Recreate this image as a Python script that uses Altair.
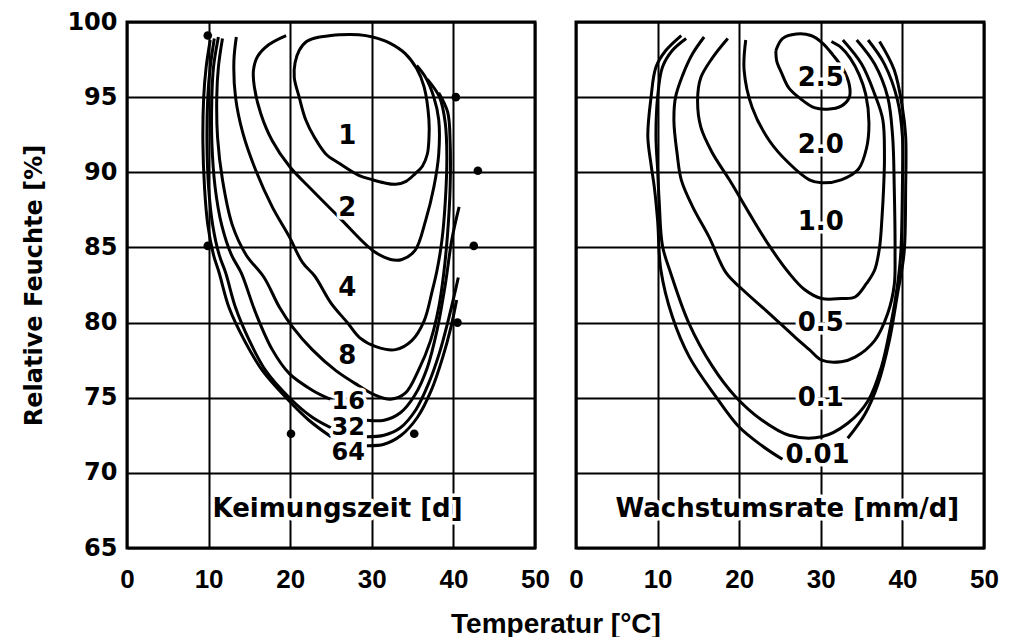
import altair as alt
import pandas as pd

# ---------------- Left panel: Keimungszeit [d] (germination time isopleths) ----------------
K1_T = [23.6, 26.0, 28.4, 30.1, 32.2, 34.1, 35.5, 36.4, 37.0, 37.0, 36.8, 36.2, 35.3, 34.2, 32.9, 31.5,
        30.1, 28.4, 26.0, 24.4, 23.0, 21.9, 21.1, 20.5, 20.6, 21.1, 22.0, 23.6]
K1_RH = [99.0, 99.15, 99.15, 99.0, 98.6, 97.9, 96.9, 95.7, 93.5, 92.2, 91.2, 90.4, 89.9, 89.4, 89.2, 89.3,
         89.5, 89.8, 90.6, 91.2, 92.3, 93.5, 95.0, 96.3, 97.3, 98.1, 98.7, 99.0]

K2_T = [19.5, 17.4, 16.0, 15.5, 15.6, 16.4, 17.8, 19.9, 22.7, 26.0, 30.1, 32.3, 33.7, 35.3, 36.6, 37.6,
        38.2, 38.2, 37.6, 36.6, 35.5]
K2_RH = [99.1, 98.5, 97.7, 96.8, 95.7, 93.9, 92.1, 90.4, 88.8, 87.0, 84.8, 84.2, 84.2, 84.8, 86.8, 89.0,
         91.2, 93.5, 95.0, 96.3, 97.1]

K4_T = [13.4, 13.1, 13.3, 14.2, 15.8, 17.8, 19.9, 21.5, 23.0, 25.0, 27.0, 28.5, 30.5, 32.9, 34.9, 36.4,
        37.4, 38.0, 38.6, 39.0, 39.2, 39.0, 38.3, 36.8]
K4_RH = [99.0, 97.4, 95.0, 92.6, 90.1, 87.7, 85.7, 84.0, 83.1, 81.3, 80.0, 79.0, 78.4, 78.2, 78.8, 80.1,
         82.1, 83.5, 85.5, 88.0, 91.0, 93.3, 95.0, 96.2]

K8_T = [11.7, 11.2, 11.0, 11.1, 11.7, 12.9, 14.6, 16.8, 18.7, 20.3, 22.7, 25.6, 28.4, 30.3, 32.3, 34.1,
        35.7, 37.2, 38.2, 38.8, 39.3, 39.6, 39.6, 39.3, 38.2]
K8_RH = [98.9, 97.0, 95.0, 92.3, 89.5, 86.5, 84.5, 83.0, 81.0, 79.7, 78.2, 76.8, 75.8, 75.2, 74.9, 75.3,
         76.8, 78.8, 81.0, 83.2, 86.0, 89.0, 92.0, 94.0, 95.3]

K16A_T = [11.2, 10.6, 10.4, 10.4, 10.8, 11.6, 12.8, 14.0, 15.8, 17.8, 19.9, 22.7, 24.9]
K16A_RH = [99.0, 97.0, 95.0, 92.0, 89.0, 86.5, 84.5, 83.3, 80.6, 78.2, 76.6, 75.5, 74.9]
K16B_T = [29.4, 31.5, 33.5, 35.3, 36.8, 38.0, 39.0, 39.8, 40.7]
K16B_RH = [73.5, 73.5, 74.0, 75.2, 77.0, 79.5, 82.5, 85.5, 87.7]

K32A_T = [10.7, 10.2, 9.9, 9.8, 10.0, 10.5, 11.3, 12.1, 13.3, 15.0, 17.0, 19.9, 22.7, 25.0]
K32A_RH = [98.9, 97.0, 95.0, 92.0, 89.0, 86.5, 84.5, 83.3, 81.0, 78.8, 76.8, 75.0, 73.7, 73.0]
K32B_T = [29.4, 31.5, 33.5, 35.4, 37.0, 38.3, 39.3, 40.1, 40.6]
K32B_RH = [72.4, 72.5, 73.0, 74.2, 76.0, 78.0, 80.0, 81.8, 83.0]

K64A_T = [10.2, 9.7, 9.4, 9.3, 9.5, 9.9, 10.6, 11.3, 12.5, 14.4, 16.6, 19.5, 22.3, 25.0]
K64A_RH = [98.8, 97.0, 95.0, 92.0, 89.0, 86.5, 84.5, 83.3, 81.0, 78.8, 76.8, 75.0, 73.5, 72.4]
K64B_T = [29.4, 31.5, 33.6, 35.6, 37.3, 38.7, 39.7, 40.4]
K64B_RH = [71.8, 71.9, 72.5, 73.7, 75.5, 77.7, 79.7, 81.5]

DOT_T = [9.9, 40.3, 43.0, 9.9, 42.5, 40.5, 20.1, 35.2]
DOT_RH = [99.1, 95.0, 90.1, 85.1, 85.1, 80.0, 72.6, 72.6]

K_LABELS = ["1", "2", "4", "8"]
K_LABEL_T = [27.0, 27.0, 27.0, 27.0]
K_LABEL_RH = [92.4, 87.6, 82.3, 77.8]

K_STACK_LABELS = ["16", "32", "64"]
K_STACK_T = [27.1, 27.1, 27.1]
K_STACK_RH = [74.7, 73.0, 71.3]

# ---------------- Right panel: Wachstumsrate [mm/d] (growth rate isopleths) ----------------
W25_T = [24.5, 25.3, 27.0, 28.8, 30.2, 31.5, 32.7, 33.5, 33.5, 32.5, 30.8, 29.2, 27.5, 26.1, 25.2, 24.6, 24.5]
W25_RH = [98.1, 98.9, 99.2, 99.1, 98.6, 97.8, 96.9, 95.8, 95.0, 94.4, 94.2, 94.3, 94.9, 95.6, 96.6, 97.4, 98.1]

W20_T = [20.8, 20.6, 21.6, 23.7, 26.1, 28.6, 30.1, 32.5, 34.6, 35.6, 35.9, 35.5, 34.7, 33.6, 32.5, 31.3]
W20_RH = [98.8, 96.8, 94.3, 92.1, 90.6, 89.5, 89.3, 89.5, 90.2, 91.6, 93.3, 95.2, 96.5, 97.6, 98.3, 98.7]

W10_T = [18.6, 16.7, 15.3, 14.9, 15.3, 16.7, 18.8, 21.2, 23.7, 26.1, 28.0, 30.1, 32.5, 34.2, 35.6, 36.6,
         37.2, 37.5, 37.7, 37.8, 37.6, 36.6, 35.0, 32.7]
W10_RH = [98.9, 97.6, 96.3, 94.8, 93.0, 91.3, 89.5, 87.3, 85.1, 83.3, 82.2, 81.6, 81.6, 81.7, 82.6, 83.5,
          85.0, 87.0, 89.0, 91.0, 93.5, 95.2, 97.2, 98.8]

W05_T = [15.7, 14.3, 13.1, 12.2, 12.0, 12.4, 12.9, 14.3, 16.3, 18.4, 20.4, 23.7, 26.9, 28.6, 30.1, 32.5,
         34.2, 36.6, 38.2, 39.0, 39.1, 39.0, 38.8, 38.2, 36.6, 34.4]
W05_RH = [99.0, 97.9, 96.5, 95.0, 93.4, 91.2, 89.5, 87.7, 85.7, 83.3, 82.2, 80.6, 79.0, 78.2, 77.5, 77.4,
          77.7, 78.8, 80.6, 82.5, 84.6, 89.0, 92.4, 95.0, 97.2, 98.8]

W01_T = [13.5, 11.8, 10.6, 10.0, 9.8, 10.0, 10.2, 10.6, 11.6, 13.8, 16.7, 19.5, 22.8, 26.1, 30.1, 33.3,
         35.8, 37.4, 38.6, 39.4, 39.8, 40.0, 40.0, 39.4, 37.8, 35.8]
W01_RH = [98.9, 98.1, 97.0, 95.0, 92.4, 90.2, 88.0, 85.1, 83.3, 80.0, 77.1, 75.1, 73.5, 72.5, 72.4, 73.3,
          74.8, 77.0, 79.9, 82.5, 84.6, 89.0, 92.4, 94.8, 97.2, 98.8]

W001A_T = [12.9, 11.0, 9.8, 9.2, 8.8, 9.2, 9.6, 10.0, 10.4, 11.8, 13.9, 17.1, 19.9, 22.8, 25.3]
W001A_RH = [99.1, 98.1, 97.0, 95.0, 92.4, 90.5, 89.0, 86.8, 83.5, 80.4, 77.7, 75.1, 73.1, 71.8, 70.9]
W001B_T = [33.3, 35.4, 37.0, 38.4, 39.4, 40.2, 40.4, 40.4, 40.0, 39.0, 37.2]
W001B_RH = [72.3, 73.9, 75.9, 78.8, 81.9, 84.6, 89.0, 92.4, 94.3, 96.8, 98.7]

W_LABELS = ["2.5", "2.0", "1.0", "0.5", "0.1", "0.01"]
W_LABEL_T = [30.0, 30.0, 30.0, 30.0, 30.0, 29.6]
W_LABEL_RH = [96.3, 91.8, 86.7, 80.0, 75.0, 71.2]

PANEL_TITLES = ["Keimungszeit [d]", "Wachstumsrate [mm/d]"]
PANEL_TITLE_T = [25.8, 25.9]
PANEL_TITLE_RH = [67.6, 67.6]

X_TICKS = [0, 10, 20, 30, 40, 50]
Y_TICKS = [65, 70, 75, 80, 85, 90, 95, 100]

WIDE = "DejaVu Sans"
ARIAL = "Liberation Sans"

PW, PH, GAP = 408, 526, 41


def curves_df(segments):
    rows = []
    for name, ts, rhs in segments:
        for i, (t, rh) in enumerate(zip(ts, rhs)):
            rows.append({"seg": name, "i": i, "T": t, "RH": rh})
    return pd.DataFrame(rows)


def label_df(labels, ts, rhs):
    return pd.DataFrame({"label": labels, "T": ts, "RH": rhs})


left_lines = curves_df([
    ("1", K1_T, K1_RH), ("2", K2_T, K2_RH), ("4", K4_T, K4_RH), ("8", K8_T, K8_RH),
    ("16a", K16A_T, K16A_RH), ("16b", K16B_T, K16B_RH),
    ("32a", K32A_T, K32A_RH), ("32b", K32B_T, K32B_RH),
    ("64a", K64A_T, K64A_RH), ("64b", K64B_T, K64B_RH),
])
right_lines = curves_df([
    ("2.5", W25_T, W25_RH), ("2.0", W20_T, W20_RH), ("1.0", W10_T, W10_RH),
    ("0.5", W05_T, W05_RH), ("0.1", W01_T, W01_RH),
    ("0.01a", W001A_T, W001A_RH), ("0.01b", W001B_T, W001B_RH),
])
dots = pd.DataFrame({"T": DOT_T, "RH": DOT_RH})

left_texts = [
    (label_df(K_LABELS, K_LABEL_T, K_LABEL_RH), 26),
    (label_df(K_STACK_LABELS, K_STACK_T, K_STACK_RH), 24),
    (label_df(PANEL_TITLES[:1], PANEL_TITLE_T[:1], PANEL_TITLE_RH[:1]), 26),
]
right_texts = [
    (label_df(W_LABELS, W_LABEL_T, W_LABEL_RH), 26),
    (label_df(PANEL_TITLES[1:], PANEL_TITLE_T[1:], PANEL_TITLE_RH[1:]), 26),
]

xscale = alt.Scale(domain=[0, 50], nice=False, zero=False)
yscale = alt.Scale(domain=[65, 100], nice=False, zero=False)


def xaxis(with_title):
    kw = dict(values=X_TICKS, grid=True, gridColor="black", gridWidth=2, gridOpacity=1,
              ticks=False, domain=False, labelFont=ARIAL, labelFontSize=26, labelFontWeight="bold",
              labelColor="black", labelPadding=18, labelFlush=False, labelOverlap=False)
    if with_title:
        kw.update(title="Temperatur [°C]", titleFont=ARIAL, titleFontSize=28, titleFontWeight="bold",
                  titleColor="black", titleX=PW + GAP / 2, titleY=76, titleAlign="center",
                  titleBaseline="middle", titleAnchor="start")
    else:
        kw.update(title=None)
    return alt.Axis(**kw)


def yaxis(show):
    if show:
        return alt.Axis(values=Y_TICKS, grid=True, gridColor="black", gridWidth=2, gridOpacity=1,
                        ticks=False, domain=False, labelFont=WIDE, labelFontSize=24, labelFontWeight="bold",
                        labelColor="black", labelPadding=10, labelOverlap=False,
                        title="Relative Feuchte [%]", titleFont=WIDE, titleFontSize=24,
                        titleFontWeight="bold", titleColor="black", titlePadding=20)
    return alt.Axis(values=Y_TICKS, grid=True, gridColor="black", gridWidth=2, gridOpacity=1,
                    ticks=False, domain=False, labels=False, title=None)


def panel(lines, texts, first, with_dots):
    x = alt.X("T:Q", scale=xscale, axis=xaxis(first))
    y = alt.Y("RH:Q", scale=yscale, axis=yaxis(first))
    base_line = alt.Chart(lines).mark_line(color="black", strokeWidth=3, interpolate="catmull-rom").encode(
        x=x, y=y, detail="seg:N", order="i:Q")
    layers = [base_line]
    if with_dots:
        layers.append(alt.Chart(dots).mark_circle(color="black", opacity=1, size=75).encode(
            x=alt.X("T:Q", scale=xscale), y=alt.Y("RH:Q", scale=yscale)))
    for df, fs in texts:
        enc = dict(x=alt.X("T:Q", scale=xscale), y=alt.Y("RH:Q", scale=yscale), text="label:N")
        layers.append(alt.Chart(df).mark_text(font=WIDE, fontSize=fs, fontWeight="bold", fill="white",
                                              stroke="white", strokeWidth=7, strokeJoin="round").encode(**enc))
        layers.append(alt.Chart(df).mark_text(font=WIDE, fontSize=fs, fontWeight="bold",
                                              color="black").encode(**enc))
    return alt.layer(*layers).properties(width=PW, height=PH)


left = panel(left_lines, left_texts, True, True)
right = panel(right_lines, right_texts, False, False)

chart = alt.hconcat(left, right, spacing=GAP, bounds="flush").properties(
    padding={"left": 13, "top": 0, "right": 0, "bottom": 0},
    background="white",
).configure_view(stroke="black", strokeWidth=3)

chart.save("out.html", embed_options={"renderer": "svg", "actions": False})
